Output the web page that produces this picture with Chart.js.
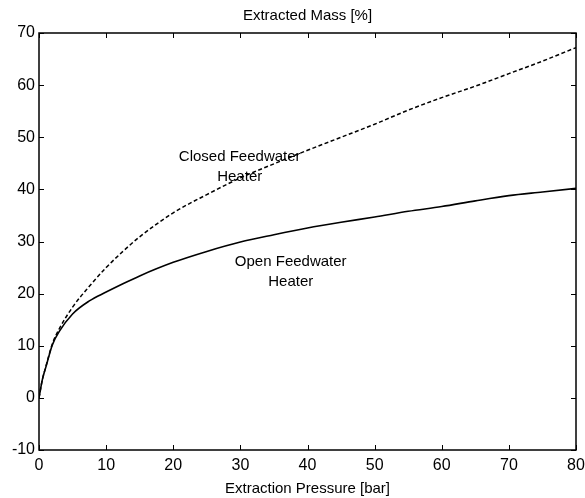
<!DOCTYPE html>
<html>
<head>
<meta charset="utf-8">
<script src="https://cdn.jsdelivr.net/npm/chart.js@4/dist/chart.umd.min.js"></script>
<style>
  html, body { margin: 0; padding: 0; background: #fff; }
  #wrap { width: 585px; height: 498px; }
</style>
</head>
<body>
<div id="wrap"><canvas id="grafico"></canvas></div>
<script>
// pressao de extracao [bar]
var pressao = [0, 0.5, 1, 2, 3, 5, 7.5, 10, 12.5, 15, 20, 25, 30, 35, 40, 45, 50, 55, 60, 65, 70, 75, 80];
// aquecedor aberto (linha cheia)
var massaAberto = [0, 3.5, 5.8, 10.2, 12.7, 16.1, 18.6, 20.3, 21.9, 23.4, 26.0, 28.1, 29.9, 31.3, 32.6, 33.7, 34.7, 35.8, 36.7, 37.8, 38.8, 39.5, 40.2];
// aquecedor fechado (linha tracejada)
var massaFechado = [0, 3.5, 5.9, 10.4, 13.2, 17.4, 21.4, 25.0, 28.1, 30.9, 35.5, 39.0, 42.2, 44.9, 47.5, 50.0, 52.5, 55.2, 57.6, 59.8, 62.2, 64.6, 67.2];

var ticksX = [0, 10, 20, 30, 40, 50, 60, 70, 80];
var ticksY = [-10, 0, 10, 20, 30, 40, 50, 60, 70];

var titulo = "Extracted Mass [%]";
var tituloX = "Extraction Pressure [bar]";
// rotulos das curvas: [x, y, linha1, linha2]
var rotulos = [
    [29.9, 44.3, "Closed Feedwater", "Heater"],
    [37.5, 24.2, "Open Feedwater", "Heater"]
];

var fonte = "'Liberation Sans', Arial, sans-serif";

function pontos(ys) {
    return pressao.map((x, i) => ({ x: x, y: ys[i] }));
}

// moldura, marcas internas e textos
var moldura = {
    id: 'moldura',
    afterDraw(chart) {
        const ctx = chart.ctx;
        const a = chart.chartArea;
        const sx = chart.scales.x, sy = chart.scales.y;
        ctx.save();
        ctx.strokeStyle = '#000';
        ctx.lineWidth = 1.5;
        ctx.strokeRect(a.left, a.top, a.right - a.left, a.bottom - a.top);
        ctx.lineWidth = 1;
        ctx.beginPath();
        ticksX.forEach(v => {
            const px = Math.round(sx.getPixelForValue(v)) + 0.5;
            ctx.moveTo(px, a.bottom); ctx.lineTo(px, a.bottom - 5);
            ctx.moveTo(px, a.top); ctx.lineTo(px, a.top + 5);
        });
        ticksY.forEach(v => {
            const py = Math.round(sy.getPixelForValue(v)) + 0.5;
            ctx.moveTo(a.left, py); ctx.lineTo(a.left + 5, py);
            ctx.moveTo(a.right, py); ctx.lineTo(a.right - 5, py);
        });
        ctx.stroke();

        ctx.fillStyle = '#000';
        ctx.textAlign = 'center';
        ctx.textBaseline = 'middle';
        ctx.font = "15px " + fonte;
        ctx.fillText(titulo, (a.left + a.right) / 2, 16);
        rotulos.forEach(r => {
            const px = sx.getPixelForValue(r[0]);
            const py = sy.getPixelForValue(r[1]);
            ctx.fillText(r[2], px, py - 10);
            ctx.fillText(r[3], px, py + 10);
        });
        ctx.restore();
    }
};

var ctx1 = document.getElementById("grafico").getContext("2d");
var grafico = new Chart(ctx1, {
    type: 'line',
    data: {
        datasets: [{
            label: 'Open Feedwater Heater',
            data: pontos(massaAberto),
            borderColor: '#000',
            borderWidth: 1.6,
            pointRadius: 0,
            fill: false,
            cubicInterpolationMode: 'monotone'
        }, {
            label: 'Closed Feedwater Heater',
            data: pontos(massaFechado),
            borderColor: '#000',
            borderWidth: 1.5,
            borderDash: [4, 2.5],
            pointRadius: 0,
            fill: false,
            cubicInterpolationMode: 'monotone'
        }]
    },
    options: {
        responsive: true,
        maintainAspectRatio: false,
        animation: false,
        layout: {
            padding: { top: 33, right: 0, left: 0, bottom: 0 }
        },
        scales: {
            x: {
                type: 'linear',
                min: 0,
                max: 80,
                afterBuildTicks: (s) => { s.ticks = ticksX.map(v => ({ value: v })); },
                afterFit: (s) => { s.height = 48; s.paddingLeft = 0; s.paddingRight = 9; },
                grid: { display: false, drawTicks: false },
                border: { display: false },
                ticks: {
                    color: '#000',
                    padding: 6,
                    maxRotation: 0,
                    font: { size: 16, family: fonte }
                },
                title: {
                    display: true,
                    text: tituloX,
                    color: '#000',
                    padding: { top: 0, bottom: 0 },
                    font: { size: 15, family: fonte }
                }
            },
            y: {
                min: -10,
                max: 70,
                afterBuildTicks: (s) => { s.ticks = ticksY.map(v => ({ value: v })); },
                afterFit: (s) => { s.width = 39; },
                grid: { display: false, drawTicks: false },
                border: { display: false },
                ticks: {
                    color: '#000',
                    padding: 4,
                    font: { size: 16, family: fonte }
                }
            }
        },
        plugins: {
            legend: { display: false },
            title: { display: false },
            tooltip: { enabled: false }
        }
    },
    plugins: [moldura]
});
</script>
</body>
</html>
